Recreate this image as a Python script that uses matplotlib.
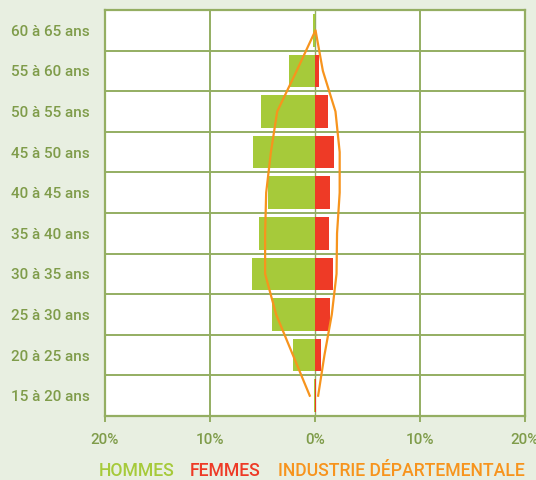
import matplotlib
matplotlib.use("Agg")
import matplotlib.pyplot as plt
import numpy as np

categories = ["15 à 20 ans", "20 à 25 ans", "25 à 30 ans", "30 à 35 ans", "35 à 40 ans",
              "40 à 45 ans", "45 à 50 ans", "50 à 55 ans", "55 à 60 ans", "60 à 65 ans"]
hommes = [0.05, 2.1, 4.1, 6.0, 5.35, 4.45, 5.9, 5.1, 2.45, 0.15]
femmes = [0.1, 0.6, 1.45, 1.75, 1.35, 1.45, 1.85, 1.2, 0.4, 0.0]
industrie_hommes = [0.5, 2.1, 3.7, 4.75, 4.75, 4.65, 4.2, 3.6, 1.75]
industrie_femmes = [0.3, 0.9, 1.6, 2.05, 2.1, 2.35, 2.35, 1.95, 0.75]
industrie_apex = 0.05
xtick_vals = [-20, -10, 0, 10, 20]
xtick_labels = ["20%", "10%", "0%", "10%", "20%"]

BG = "#e8efe1"
GRID = "#94ae62"
TXT = "#7f9c4a"
C_H = "#a6ca3a"
C_F = "#ee3a26"
C_I = "#f7941d"

plt.rcParams['font.family'] = ['Roboto', 'DejaVu Sans']

fig = plt.figure(figsize=(5.36, 4.80), dpi=100, facecolor=BG)
ax = fig.add_axes([105/536, (480-416)/480, 420/536, 406/480])
ax.set_facecolor("white")

y = np.arange(len(categories))
ax.barh(y, [-v for v in hommes], height=0.8, color=C_H, zorder=2)
ax.barh(y, femmes, height=0.8, color=C_F, zorder=2)

# industry outline: bottom-left -> apex -> bottom-right
n = len(industrie_hommes)
lx = [-v for v in industrie_hommes] + [industrie_apex] + industrie_femmes[::-1]
ly = list(y[:n]) + [y[-1]] + list(y[:n][::-1])
ax.plot(lx, ly, color=C_I, lw=1.6, zorder=3, solid_joinstyle='round')

ax.set_xlim(-20, 20)
ax.set_ylim(-0.5, len(categories) - 0.5)

for b in np.arange(0.5, len(categories) - 0.5, 1):
    ax.axhline(b, color=GRID, lw=1.4, zorder=1)
for xv in [-10, 10]:
    ax.axvline(xv, color=GRID, lw=1.4, zorder=1)
ax.axvline(0, color=GRID, lw=1.0, zorder=1)

for s in ax.spines.values():
    s.set_color(GRID)
    s.set_linewidth(1.6)

ax.set_yticks(y)
ax.set_yticklabels(categories, fontsize=11, color=TXT, fontweight='medium')
ax.tick_params(axis='y', length=0, pad=11)
ax.set_xticks(xtick_vals)
ax.set_xticklabels(xtick_labels, fontsize=11, color=TXT, fontweight='medium')
ax.tick_params(axis='x', length=4, width=1.4, color=GRID, pad=8)

ty = 1 - 471/480
fig.text(99/536, ty, "HOMMES", color=C_H, fontsize=12.7, va='center', ha='left', fontweight='medium')
fig.text(190/536, ty, "FEMMES", color=C_F, fontsize=12.7, va='center', ha='left', fontweight='medium')
fig.text(278/536, ty, "INDUSTRIE DÉPARTEMENTALE", color=C_I, fontsize=12.7, va='center', ha='left', fontweight='medium')

fig.savefig("out.png", dpi=100, facecolor=BG)
